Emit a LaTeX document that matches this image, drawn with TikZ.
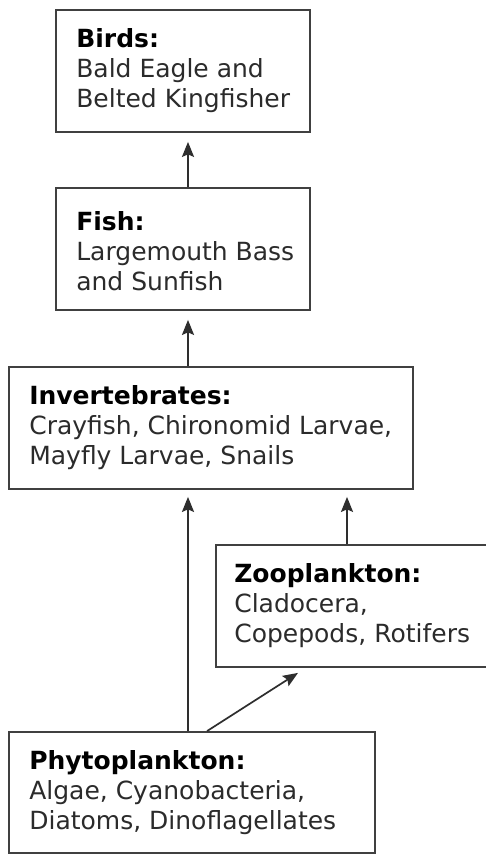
\documentclass[tikz,border=0pt]{standalone}
\usepackage{fontspec}
\setmainfont{DejaVu Sans}
\usetikzlibrary{arrows.meta}
\definecolor{boxgray}{HTML}{404040}
\definecolor{arrgray}{HTML}{2E2E2E}
\definecolor{txtgray}{HTML}{2B2B2B}
\begin{document}
\begin{tikzpicture}[x=1pt,y=-1pt,
  box/.style={draw=boxgray, line width=1.8pt, inner sep=0pt, minimum height=122pt, fill=white},
  lbl/.style={anchor=west, align=left, inner sep=0pt, text=txtgray,
              font=\fontsize{25}{30}\selectfont},
  arr/.style={draw=arrgray, line width=1.7pt, -{Stealth[length=15pt,width=12pt,inset=2.5pt]}}]
\useasboundingbox (0,0) rectangle (486,855);
\clip (0,0) rectangle (486,855);
\fill[white] (0,0) rectangle (486,855);

\node[box, minimum width=254pt] (birds) at (183,71) {};
\node[box, minimum width=254pt] (fish) at (183,249) {};
\node[box, minimum width=404pt] (invert) at (211,428) {};
\node[box, minimum width=280pt] (zoo) at (356,606) {};
\node[box, minimum width=366pt, minimum height=121pt] (phyto) at (192,792.5) {};

\node[lbl] (birdsT) at ([xshift=21pt]birds.west) {\textbf{\color{black}Birds:}\\Bald Eagle and\\Belted Kingfisher};
\node[lbl] (fishT) at ([xshift=21pt,yshift=-2pt]fish.west) {\textbf{\color{black}Fish:}\\Largemouth Bass\\and Sunfish};
\node[lbl] (invertT) at ([xshift=21pt]invert.west) {\textbf{\color{black}Invertebrates:}\\Crayfish, Chironomid Larvae,\\Mayfly Larvae, Snails};
\node[lbl] (zooT) at ([xshift=19pt]zoo.west) {\textbf{\color{black}Zooplankton:}\\Cladocera,\\Copepods, Rotifers};
\node[lbl] (phytoT) at ([xshift=21pt]phyto.west) {\textbf{\color{black}Phytoplankton:}\\Algae, Cyanobacteria,\\Diatoms, Dinoflagellates};

\draw[arr] ([xshift=5pt]fish.north) -- ([xshift=5pt,yshift=-9pt]birds.south);
\draw[arr] ([xshift=-23pt]invert.north) -- ([xshift=5pt,yshift=-9pt]fish.south);
\draw[arr] ([xshift=-4pt]phyto.north) -- ([xshift=-23pt,yshift=-7pt]invert.south);
\draw[arr] ([xshift=-9pt]zoo.north) -- ([xshift=136pt,yshift=-7pt]invert.south);
\draw[arr] ([xshift=15pt]phyto.north) -- ([xshift=-58pt,yshift=-5pt]zoo.south);
\end{tikzpicture}
\end{document}
